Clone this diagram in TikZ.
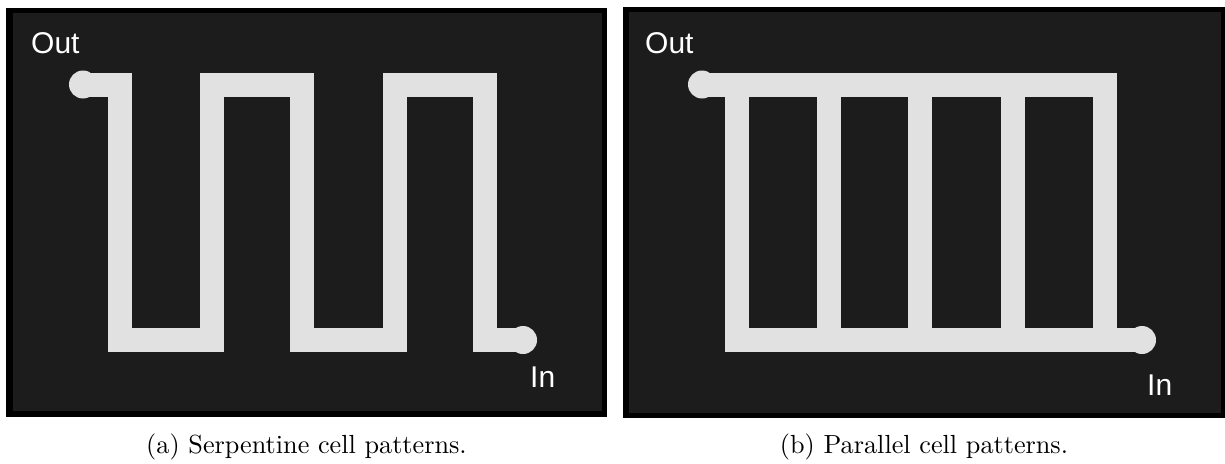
\documentclass[tikz,border=0pt]{standalone}
\usepackage{fontspec}
\newfontfamily\labelfont{Liberation Sans}
\newfontfamily\capfont{lmroman10-regular}[Extension=.otf]
\definecolor{panelbg}{HTML}{1C1C1C}
\definecolor{trace}{HTML}{E1E1E1}
\begin{document}
\begin{tikzpicture}[x=1pt,y=-1pt,
  tracepath/.style={draw=trace,line width=24pt,line join=miter},
  pad/.style={circle,fill=trace,minimum size=28pt,inner sep=0pt},
  portlabel/.style={text=white,font=\labelfont\fontsize{30}{34}\selectfont,inner sep=0pt},
  caption/.style={font=\capfont\fontsize{26.2}{30}\selectfont,inner sep=0pt,anchor=base}]
\useasboundingbox (0,0) rectangle (1225,463);
% panels
\fill[black] (6,8) rectangle (607,417);
\fill[panelbg] (13,13) rectangle (602,411);
\fill[black] (623,7) rectangle (1225,418);
\fill[panelbg] (629,12) rectangle (1221,413);
% ---- (a) serpentine
\node[pad] (outA) at (83,84.5) {};
\node[pad] (inA) at (523,340) {};
\draw[tracepath] (outA.center) -| (119.5,340) -| (211.5,84.5) -| (301.5,340)
  -| (394.5,84.5) -| (485,340) -- (inA.center);
\node[portlabel,anchor=base west] (outAl) at (31,53) {Out};
\node[portlabel,anchor=base west] (inAl) at (530,387) {In};
% ---- (b) parallel
\node[pad] (outB) at (702,84.5) {};
\node[pad] (inB) at (1142,340) {};
\coordinate (tr) at (1105,84.5);
\coordinate (tl) at (736.5,84.5);
\draw[tracepath] (outB.center) -- (tr) -- (1105,340);
\draw[tracepath] (tl) |- (inB.center);
\foreach \xx in {828.5,920,1012.5}
  \draw[tracepath] (\xx,84.5) -- (\xx,340);
\node[portlabel,anchor=base west] (outBl) at (645,53) {Out};
\node[portlabel,anchor=base west] (inBl) at (1147,395) {In};
% captions
\node[caption] (capA) at (306.5,453) {(a) Serpentine cell patterns.};
\node[caption] (capB) at (924,453) {(b) Parallel cell patterns.};
\end{tikzpicture}
\end{document}
